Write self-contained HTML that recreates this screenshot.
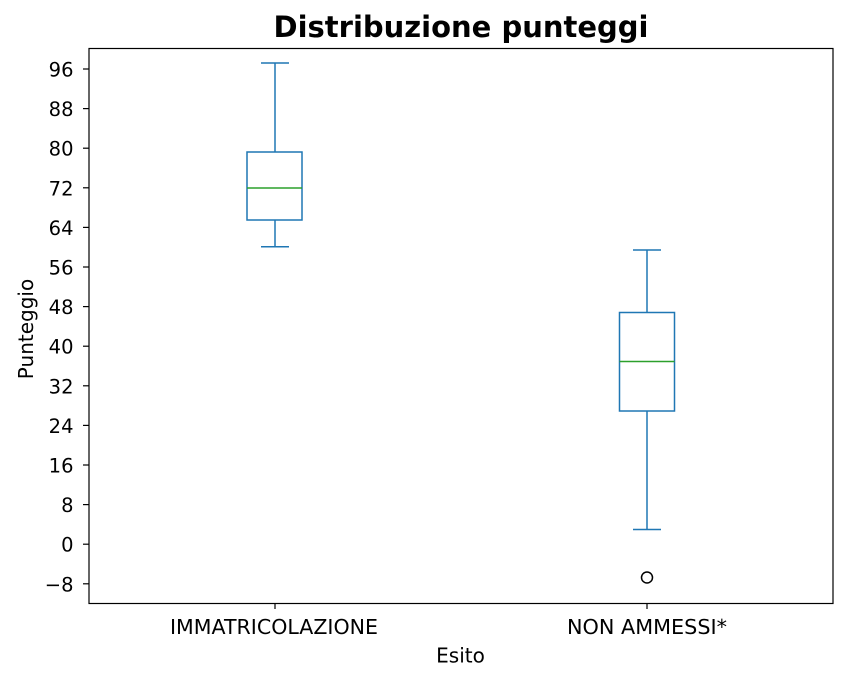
<!DOCTYPE html>
<html><head><style>body{margin:0;background:#fff}svg{display:block}text{font-family:"DejaVu Sans","Liberation Sans",sans-serif;fill:#000}</style></head>
<body>
<svg width="847" height="681" viewBox="0 0 847 681" xmlns="http://www.w3.org/2000/svg">
<text x="461" y="37" font-size="29" font-weight="bold" text-anchor="middle" textLength="375" lengthAdjust="spacingAndGlyphs">Distribuzione punteggi</text>
<rect x="89" y="48.5" width="744" height="555" fill="none" stroke="#000" stroke-width="1.2"/>
<g font-size="19.5" text-anchor="end">
<g stroke="#000" stroke-width="1.2">
<line x1="83" x2="89" y1="69" y2="69"/><line x1="83" x2="89" y1="108.6" y2="108.6"/><line x1="83" x2="89" y1="148.2" y2="148.2"/><line x1="83" x2="89" y1="187.8" y2="187.8"/><line x1="83" x2="89" y1="227.4" y2="227.4"/><line x1="83" x2="89" y1="267" y2="267"/><line x1="83" x2="89" y1="306.6" y2="306.6"/><line x1="83" x2="89" y1="346.2" y2="346.2"/><line x1="83" x2="89" y1="385.8" y2="385.8"/><line x1="83" x2="89" y1="425.4" y2="425.4"/><line x1="83" x2="89" y1="465" y2="465"/><line x1="83" x2="89" y1="504.6" y2="504.6"/><line x1="83" x2="89" y1="544.2" y2="544.2"/><line x1="83" x2="89" y1="583.8" y2="583.8"/>
<line x1="275" x2="275" y1="603" y2="609"/><line x1="647" x2="647" y1="603" y2="609"/>
</g>
<text x="73.5" y="76.5">96</text><text x="73.5" y="116.1">88</text><text x="73.5" y="155.7">80</text><text x="73.5" y="195.3">72</text><text x="73.5" y="234.9">64</text><text x="73.5" y="274.5">56</text><text x="73.5" y="314.1">48</text><text x="73.5" y="353.7">40</text><text x="73.5" y="393.3">32</text><text x="73.5" y="432.9">24</text><text x="73.5" y="472.5">16</text><text x="73.5" y="512.1">8</text><text x="73.5" y="551.7">0</text><text x="73.5" y="591.3">−8</text>
</g>
<g font-size="20" text-anchor="middle">
<text x="274" y="634" textLength="208" lengthAdjust="spacingAndGlyphs">IMMATRICOLAZIONE</text><text x="647" y="634" textLength="160" lengthAdjust="spacingAndGlyphs">NON AMMESSI*</text>
<text x="460.5" y="662.5">Esito</text>
</g>
<text font-size="20" text-anchor="middle" transform="translate(33,329) rotate(-90)">Punteggio</text>
<g stroke="#1f77b4" stroke-width="1.5" fill="none">
<rect x="247" y="152" width="55" height="68"/>
<line x1="275" x2="275" y1="63" y2="152"/><line x1="275" x2="275" y1="220" y2="246.7"/>
<line x1="261" x2="289" y1="63" y2="63"/><line x1="261" x2="289" y1="246.7" y2="246.7"/>
<rect x="619.5" y="312.5" width="55" height="98.5"/>
<line x1="647" x2="647" y1="250" y2="312.5"/><line x1="647" x2="647" y1="411" y2="529.5"/>
<line x1="633" x2="661" y1="250" y2="250"/><line x1="633" x2="661" y1="529.5" y2="529.5"/>
</g>
<line x1="247" x2="302" y1="188" y2="188" stroke="#2ca02c" stroke-width="1.5"/>
<line x1="619.5" x2="674.5" y1="361.5" y2="361.5" stroke="#2ca02c" stroke-width="1.5"/>
<circle cx="647" cy="577.5" r="5.5" fill="none" stroke="#000" stroke-width="1.5"/>
</svg>
</body></html>
